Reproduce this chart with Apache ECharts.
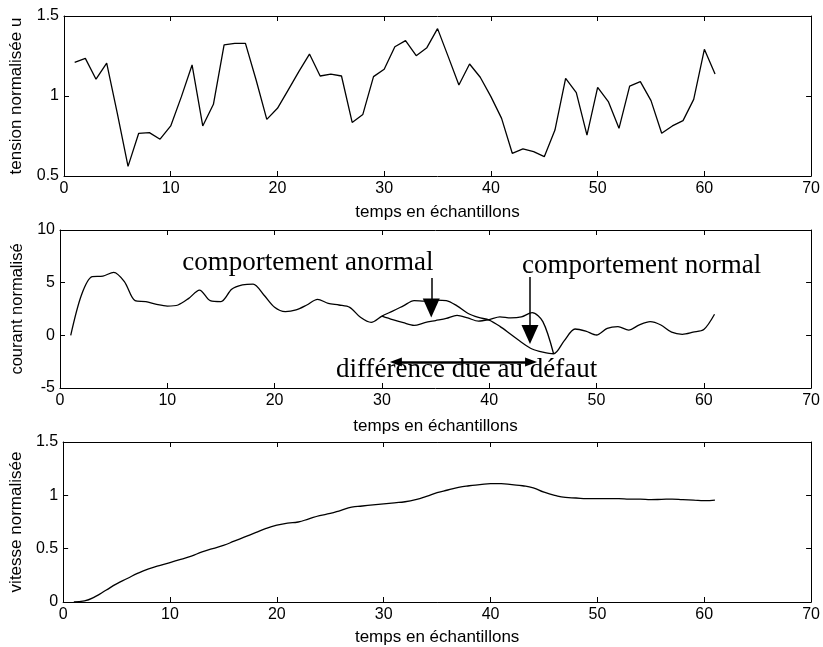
<!DOCTYPE html>
<html>
<head>
<meta charset="utf-8">
<script src="https://cdn.jsdelivr.net/npm/echarts@6/dist/echarts.min.js"></script>
<style>
html, body { margin: 0; padding: 0; background: #fff; }
#chart { width: 823px; height: 647px; }
</style>
</head>
<body>
<div id="chart"></div>
<script>
// temps en echantillons
var samples = [1,2,3,4,5,6,7,8,9,10,11,12,13,14,15,16,17,18,19,20,
  21,22,23,24,25,26,27,28,29,30,31,32,33,34,35,36,37,38,39,40,
  41,42,43,44,45,46,47,48,49,50,51,52,53,54,55,56,57,58,59,60,61];

var tension = [1.21,1.235,1.105,1.205,0.89,0.56,0.767,0.771,0.73,0.813,
  0.996,1.194,0.813,0.948,1.319,1.329,1.329,1.10,0.854,0.923,
  1.037,1.152,1.262,1.125,1.137,1.125,0.835,0.885,1.121,1.167,
  1.308,1.346,1.252,1.302,1.421,1.246,1.069,1.2,1.117,0.996,
  0.86,0.642,0.669,0.652,0.621,0.787,1.11,1.021,0.756,1.054,
  0.965,0.798,1.062,1.09,0.971,0.767,0.813,0.846,0.979,1.292,1.137];

var courant = [0,3.83,5.57,5.63,5.98,5.1,3.29,3.2,2.94,2.78,
  2.88,3.51,4.3,3.29,3.2,4.37,4.78,4.87,3.83,2.66,
  2.25,2.41,2.88,3.42,3.04,2.88,2.66,1.71,1.23,1.83,
  2.3,2.8,3.3,3.25,3.35,3.3,2.8,2.1,1.7,1.45,
  0.85,0.1,-0.65,-1.3,-1.6,-1.75,-0.5,0.6,0.4,0.03,
  0.66,0.82,0.5,1.0,1.3,0.98,0.3,0.1,0.3,0.55,2.0];

// branche du comportement anormal
var samplesAnormal = [30,31,32,33,34,35,36,37,38,39,40,41,42,43,44,45,46];
var courantAnormal = [1.83,1.5,1.2,0.95,1.2,1.4,1.6,1.9,1.65,1.35,1.5,1.75,1.65,1.75,2.15,1.3,-1.75];

var vitesse = [0,0.01,0.05,0.11,0.17,0.22,0.27,0.31,0.34,0.37,
  0.40,0.43,0.47,0.50,0.53,0.57,0.61,0.65,0.69,0.72,
  0.74,0.75,0.78,0.81,0.83,0.86,0.89,0.90,0.91,0.92,
  0.93,0.94,0.96,0.99,1.025,1.05,1.075,1.09,1.10,1.11,
  1.11,1.10,1.09,1.07,1.03,1.00,0.98,0.975,0.97,0.97,
  0.97,0.97,0.965,0.965,0.96,0.962,0.965,0.96,0.955,0.95,0.955];

var xTitle = 'temps en échantillons';
var yTitles = ['tension normalisée u', 'courant normalisé', 'vitesse normalisée'];
var notes = ['comportement anormal', 'comportement normal', 'différence due au défaut'];

var sans = 'Liberation Sans, Arial, sans-serif';
var serif = 'Liberation Serif, Times New Roman, serif';

function pairs(xs, ys) {
  var out = [];
  for (var i = 0; i < xs.length; i++) out.push([xs[i], ys[i]]);
  return out;
}

function xAx(g, pos, nameGap) {
  var main = pos == 'bottom';
  return {
    type: 'value', gridIndex: g, position: pos, min: 0, max: 70, interval: 10,
    name: main ? xTitle : '', nameLocation: 'middle', nameGap: nameGap,
    nameTextStyle: { color: '#000', fontFamily: sans, fontSize: 17 },
    axisLine: { onZero: false, lineStyle: { color: '#000', width: 1 } },
    axisTick: { inside: true, length: 5, lineStyle: { color: '#000' } },
    axisLabel: { show: main, color: '#000', fontFamily: sans, fontSize: 16, margin: 5 },
    splitLine: { show: false }
  };
}

function yAx(g, pos, min, max, step, name, size, nameGap) {
  var main = pos == 'left';
  return {
    type: 'value', gridIndex: g, position: pos, min: min, max: max, interval: step,
    name: main ? name : '', nameLocation: 'middle', nameGap: nameGap,
    nameTextStyle: { color: '#000', fontFamily: sans, fontSize: size },
    axisLine: { onZero: false, lineStyle: { color: '#000', width: 1 } },
    axisTick: { inside: true, length: 5, lineStyle: { color: '#000' } },
    axisLabel: { show: main, color: '#000', fontFamily: sans, fontSize: 16, margin: 5 },
    splitLine: { show: false }
  };
}

var lineStyle = { color: '#000', width: 1.3 };

var chart = echarts.init(document.getElementById('chart'));
chart.setOption({
  animation: false,
  backgroundColor: '#fff',
  grid: [
    { left: 60, right: 7, top: 16, height: 160 },
    { left: 60, right: 7, top: 230, height: 158 },
    { left: 60, right: 7, top: 442, height: 160 }
  ],
  xAxis: [
    xAx(0, 'bottom', 28), xAx(0, 'top', 0),
    xAx(1, 'bottom', 30), xAx(1, 'top', 0),
    xAx(2, 'bottom', 27), xAx(2, 'top', 0)
  ],
  yAxis: [
    yAx(0, 'left', 0.5, 1.5, 0.5, yTitles[0], 17, 39), yAx(0, 'right', 0.5, 1.5, 0.5),
    yAx(1, 'left', -5, 10, 5, yTitles[1], 16.5, 29), yAx(1, 'right', -5, 10, 5),
    yAx(2, 'left', 0, 1.5, 0.5, yTitles[2], 17, 34), yAx(2, 'right', 0, 1.5, 0.5)
  ],
  series: [
    {
      type: 'line', xAxisIndex: 0, yAxisIndex: 0, showSymbol: false,
      lineStyle: lineStyle, data: pairs(samples, tension)
    },
    {
      type: 'line', xAxisIndex: 2, yAxisIndex: 2, showSymbol: false, smooth: 0.3,
      lineStyle: lineStyle, data: pairs(samples, courant),
      markLine: {
        silent: true, animation: false,
        symbol: ['none', 'triangle'], symbolSize: [17, 19],
        label: { show: false },
        lineStyle: { color: '#000', width: 1.5, type: 'solid' },
        data: [
          [{ coord: [34.6, 5.44] }, { coord: [34.6, 2.6] }],
          [{ coord: [43.8, 5.54] }, { coord: [43.8, 0.08] }],
          [
            { coord: [31.3, -2.54], symbol: 'triangle', symbolSize: [9, 12], lineStyle: { width: 2.5 } },
            { coord: [43.9, -2.54], symbol: 'triangle', symbolSize: [9, 12] }
          ]
        ]
      },
      markPoint: {
        silent: true, animation: false, symbol: 'circle', symbolSize: 0,
        label: { show: true, position: 'inside', color: '#000', fontFamily: serif, fontSize: 27, formatter: '{b}' },
        data: [
          { name: notes[0], coord: [23.1, 6.9] },
          { name: notes[1], coord: [54.2, 6.55] },
          { name: notes[2], coord: [37.9, -3.3] }
        ]
      }
    },
    {
      type: 'line', xAxisIndex: 2, yAxisIndex: 2, showSymbol: false, smooth: 0.3,
      lineStyle: lineStyle, data: pairs(samplesAnormal, courantAnormal)
    },
    {
      type: 'line', xAxisIndex: 4, yAxisIndex: 4, showSymbol: false, smooth: true,
      lineStyle: lineStyle, data: pairs(samples, vitesse)
    }
  ]
});
</script>
</body>
</html>
